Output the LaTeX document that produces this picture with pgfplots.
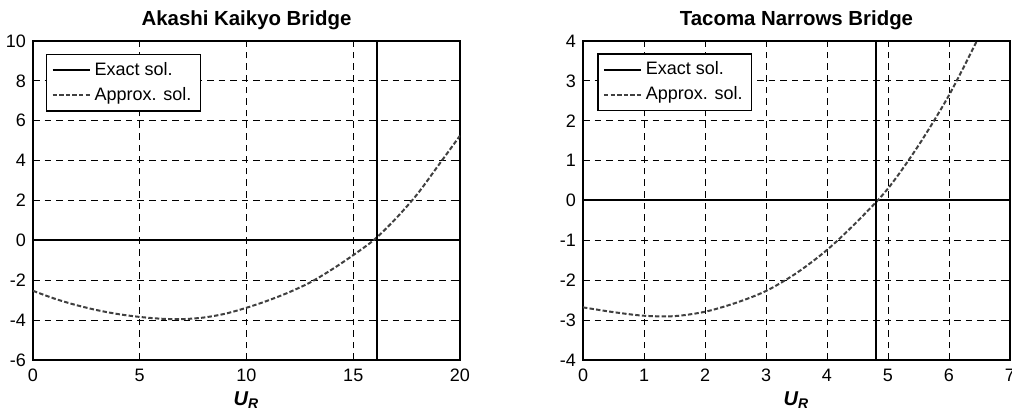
\documentclass[border=0pt]{standalone}
\usepackage{fontspec}
\setmainfont{Liberation Sans}
\usepackage{pgfplots}
\pgfplotsset{compat=1.18}
\definecolor{approx}{RGB}{64,64,64}
\begin{document}
\begin{tikzpicture}[x=1pt,y=1pt]
\useasboundingbox (0,0) rectangle (506,207.5);
\pgfplotsset{
  mystyle/.style={
    scale only axis, width=213.5pt, height=159.5pt, anchor=south west,
    axis line style={line width=0.7pt, black},
    tick style={black, line width=0.5pt}, major tick length=2.5pt, tick align=inside,
    grid=major, major grid style={dash pattern=on 3.3pt off 2.5pt, line width=0.45pt, black},
    ticklabel style={font=\fontsize{9}{10}\selectfont},
    /pgf/number format/assume math mode=true,
    xticklabel style={yshift=-1pt},
    xlabel={\bfseries\itshape U\textsubscript{R}},
    xlabel style={font=\fontsize{10}{11}\selectfont, yshift=2pt},
    title style={font=\bfseries\fontsize{10.2}{12}\selectfont, yshift=-4pt},
    legend cell align=left,
    legend image code/.code={\draw[##1] (0pt,0pt) -- (18.5pt,0pt);},
    legend style={anchor=north west, draw=black, line width=0.6pt,
      font=\fontsize{9}{10}\selectfont, row sep=0.5pt, inner xsep=2.5pt, inner ysep=1.8pt},
  },
  exact/.style={black, line width=1pt},
  appr/.style={approx, line width=1pt, dash pattern=on 2.2pt off 1.1pt},
}
\begin{axis}[mystyle, at={(16.5pt,27.5pt)},
  title={Akashi Kaikyo Bridge},
  xmin=0, xmax=20, ymin=-6, ymax=10,
  xtick={0,5,10,15,20}, ytick={-6,-4,-2,0,2,4,6,8,10},
  legend style={at={(0.0304,0.959)}}]
\addplot[exact] coordinates {(0,0) (20,0)};
\addlegendentry{Exact sol.}
\addplot[appr, smooth] coordinates {
(0,-2.53) (1,-2.92) (2,-3.24) (3,-3.5) (4,-3.7) (5,-3.84) (6,-3.93) (7,-3.95)
(8,-3.87) (9,-3.68) (10,-3.38) (11,-3.02) (12,-2.6) (13,-2.1) (14,-1.46)
(15,-0.74) (16,0.05) (17,1.1) (18,2.32) (19,3.78) (20,5.25)};
\addlegendentry{Approx. sol.}
\addplot[exact, forget plot] coordinates {(16.13,-6) (16.13,10)};
\end{axis}
\begin{axis}[mystyle, at={(291.5pt,27.5pt)},
  title={Tacoma Narrows Bridge},
  xmin=0, xmax=7, ymin=-4, ymax=4,
  xtick={0,1,2,3,4,5,6,7}, ytick={-4,-3,-2,-1,0,1,2,3,4},
  legend style={at={(0.0335,0.961)}}]
\addplot[exact] coordinates {(0,0) (7,0)};
\addlegendentry{Exact sol.}
\addplot[appr, smooth] coordinates {
(0,-2.68) (0.5,-2.8) (1,-2.89) (1.5,-2.9) (2,-2.79) (2.5,-2.57) (3,-2.27)
(3.5,-1.82) (4,-1.24) (4.5,-0.52) (5,0.3) (5.5,1.38) (6,2.64) (6.45,3.98)};
\addlegendentry{Approx. sol.}
\addplot[exact, forget plot] coordinates {(4.81,-4) (4.81,4)};
\end{axis}
\end{tikzpicture}
\end{document}
